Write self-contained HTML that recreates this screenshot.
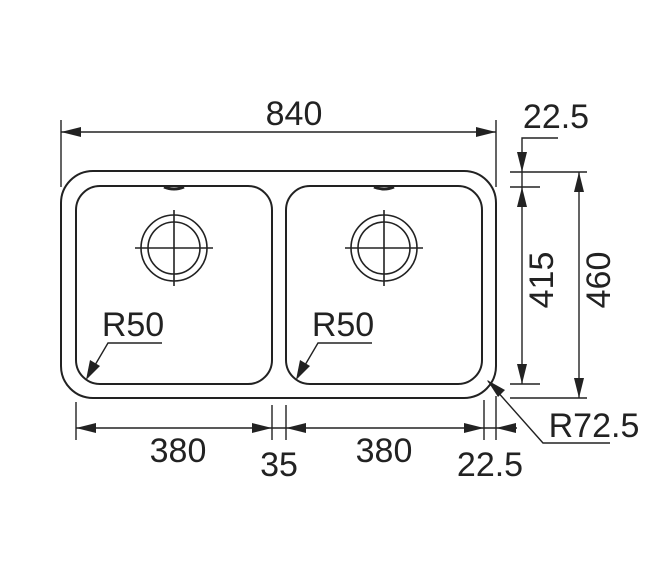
<!DOCTYPE html>
<html><head><style>body{margin:0;background:#fff}svg{display:block}</style></head><body>
<svg width="667" height="569" viewBox="0 0 667 569" xmlns="http://www.w3.org/2000/svg" font-family="Liberation Sans, sans-serif" fill="none" stroke="#222" stroke-width="1.4">
<rect x="61" y="171" width="435" height="227" rx="32" stroke-width="2"/>
<rect x="76" y="186" width="196" height="198" rx="24" stroke-width="2"/>
<rect x="286" y="186" width="196" height="198" rx="24" stroke-width="2"/>
<path d="M164 187 Q174 191 184 187" stroke-width="3"/>
<path d="M374 187 Q384 191 394 187" stroke-width="3"/>
<g stroke-width="1.6">
<circle cx="174" cy="248" r="33"/><circle cx="174" cy="248" r="26"/>
<line x1="135" y1="248" x2="213" y2="248"/><line x1="174" y1="210" x2="174" y2="286"/>
<circle cx="384" cy="248" r="33"/><circle cx="384" cy="248" r="26"/>
<line x1="345" y1="248" x2="423" y2="248"/><line x1="384" y1="210" x2="384" y2="286"/>
</g>
<!-- 840 -->
<line x1="61" y1="120" x2="61" y2="187"/><line x1="496" y1="120" x2="496" y2="187"/>
<line x1="61" y1="132" x2="496" y2="132"/>
<!-- right dims -->
<line x1="510" y1="172" x2="587" y2="172"/><line x1="510" y1="187" x2="540" y2="187"/>
<line x1="510" y1="384" x2="540" y2="384"/><line x1="510" y1="398" x2="587" y2="398"/>
<polyline points="558,138 522,138 522,384"/>
<line x1="579" y1="172" x2="579" y2="398"/>
<!-- bottom dims -->
<line x1="76" y1="402" x2="76" y2="440"/><line x1="272" y1="405" x2="272" y2="440"/>
<line x1="286" y1="405" x2="286" y2="440"/><line x1="484" y1="400" x2="484" y2="440"/>
<line x1="496" y1="396" x2="496" y2="440"/>
<line x1="76" y1="428" x2="517" y2="428"/>
<!-- R leaders -->
<polyline points="162,343 108,343 88,377"/>
<polyline points="372,343 318,343 298,377"/>
<polyline points="610,443 543,443 488,381"/>
<g fill="#222" stroke="none">
<polygon points="61,132 81,127 81,137"/><polygon points="496,132 476,127 476,137"/>
<polygon points="522,172 517,152 527,152"/><polygon points="522,187 517,207 527,207"/>
<polygon points="522,384 517,364 527,364"/>
<polygon points="579,172 574,192 584,192"/><polygon points="579,398 574,378 584,378"/>
<polygon points="76,428 96,423 96,433"/><polygon points="272,428 252,423 252,433"/>
<polygon points="286,428 306,423 306,433"/><polygon points="484,428 464,423 464,433"/>
<polygon points="496,428 516,423 516,433"/>
<polygon points="86,380 90,360 100,366"/><polygon points="296,380 300,360 310,366"/>
<polygon points="487,380 505,390 498,397"/>
</g>
<g fill="#222" stroke="none" font-size="34">
<text x="294" y="125" text-anchor="middle">840</text>
<text x="133" y="336" text-anchor="middle">R50</text>
<text x="343" y="336" text-anchor="middle">R50</text>
<text x="178" y="462" text-anchor="middle">380</text>
<text x="384" y="462" text-anchor="middle">380</text>
<text x="279" y="476" text-anchor="middle">35</text>
<text x="490" y="476" text-anchor="middle">22.5</text>
<text x="556" y="128" text-anchor="middle">22.5</text>
<text x="594" y="437" text-anchor="middle">R72.5</text>
<text transform="translate(553,280) rotate(-90)" text-anchor="middle">415</text>
<text transform="translate(610,280) rotate(-90)" text-anchor="middle">460</text>
</g>
</svg>
</body></html>
